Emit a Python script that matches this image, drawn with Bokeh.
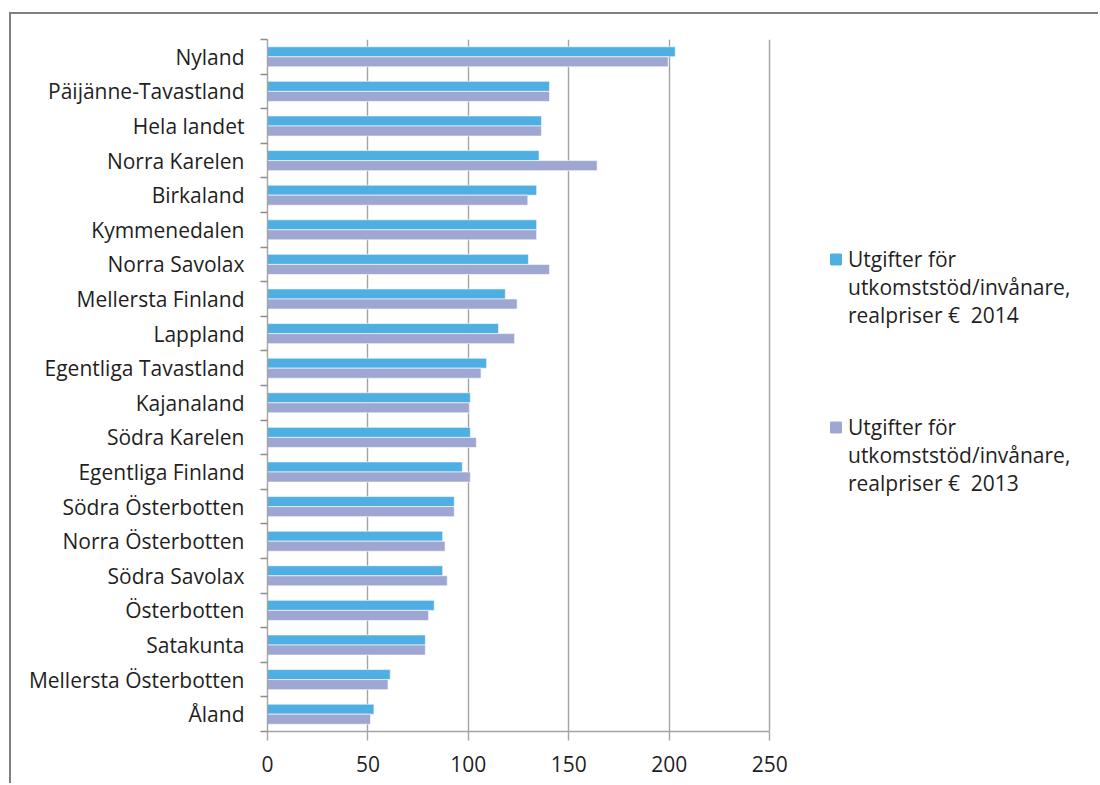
from bokeh.plotting import figure
from bokeh.models import Range1d, FixedTicker, Legend, LegendItem
from bokeh.embed import file_html
from bokeh.resources import INLINE

# ---------------- data ----------------
regions = ["Nyland", "Päijänne-Tavastland", "Hela landet", "Norra Karelen", "Birkaland",
           "Kymmenedalen", "Norra Savolax", "Mellersta Finland", "Lappland",
           "Egentliga Tavastland", "Kajanaland", "Södra Karelen", "Egentliga Finland",
           "Södra Österbotten", "Norra Österbotten", "Södra Savolax", "Österbotten",
           "Satakunta", "Mellersta Österbotten", "Åland"]
v2014 = [203.0, 140.4, 136.4, 135.2, 134.0, 134.0, 129.9, 118.4, 115.0, 109.1,
         101.0, 101.0, 97.0, 93.0, 87.2, 87.2, 83.0, 78.6, 61.1, 53.0]
v2013 = [199.5, 140.4, 136.4, 164.1, 129.6, 134.0, 140.4, 124.3, 123.0, 106.3,
         100.5, 104.0, 101.0, 93.0, 88.4, 89.5, 80.2, 78.6, 60.0, 51.3]
x_ticks = [0, 50, 100, 150, 200, 250]
legend_2014 = ["Utgifter för", "utkomststöd/invånare,", "realpriser €  2014"]
legend_2013 = ["Utgifter för", "utkomststöd/invånare,", "realpriser €  2013"]

# ---------------- style ----------------
C2014 = "#4fafe3"
C2013 = "#9da7d2"
FONT = "Open Sans"
FS = "21px"
TXT = "#1f1f1f"
GRID = "#a3a3a3"

n = len(regions)
centers = [n - 1 - i + 0.5 for i in range(n)]
boundaries = list(range(n + 1))
bar_h = 0.29
y2014 = [c + bar_h / 2 for c in centers]
y2013 = [c - bar_h / 2 for c in centers]

# the frame extends to the right edge so that the legend can sit inside it;
# the axis line and the ticks stop at 250
X_END = 414.7
p = figure(width=1089, height=771, output_backend="svg", toolbar_location=None,
           x_range=Range1d(0, X_END), y_range=Range1d(0, n),
           min_border_left=256, min_border_right=0, min_border_top=25,
           min_border_bottom=54)
p.margin = (12, 0, 0, 9)
p.styles = {"border-top": "2px solid #808080", "border-left": "2px solid #808080"}
p.outline_line_color = None
p.background_fill_color = "white"
p.border_fill_color = "white"

r14 = p.hbar(y=y2014, right=v2014, left=0, height=bar_h, fill_color=C2014,
             line_color="white", line_alpha=0.6, line_width=1)
r13 = p.hbar(y=y2013, right=v2013, left=0, height=bar_h, fill_color=C2013,
             line_color="white", line_alpha=0.6, line_width=1)

# x axis
p.xaxis.ticker = FixedTicker(ticks=x_ticks)
p.xaxis.bounds = (x_ticks[0], x_ticks[-1])
p.xaxis.axis_line_color = GRID
p.xaxis.axis_line_width = 1.4
p.xaxis.major_tick_line_color = GRID
p.xaxis.major_tick_line_width = 1.4
p.xaxis.major_tick_out = 9
p.xaxis.major_tick_in = 0
p.xaxis.minor_tick_out = 0
p.xaxis.minor_tick_in = 0
p.xaxis.major_label_standoff = 15
p.xaxis.major_label_text_font = FONT
p.xaxis.major_label_text_font_size = FS
p.xaxis.major_label_text_color = TXT

# y axis: labels at category centres, tick marks at category boundaries
p.yaxis.ticker = FixedTicker(ticks=centers, minor_ticks=boundaries)
p.yaxis.major_label_overrides = {c: r for c, r in zip(centers, regions)}
p.yaxis.axis_line_color = GRID
p.yaxis.axis_line_width = 1.4
p.yaxis.major_tick_out = 0
p.yaxis.major_tick_in = 0
p.yaxis.minor_tick_out = 7
p.yaxis.minor_tick_in = 0
p.yaxis.minor_tick_line_color = "#8c8c8c"
p.yaxis.minor_tick_line_width = 1.3
p.yaxis.major_label_standoff = 16
p.yaxis.major_label_text_font = FONT
p.yaxis.major_label_text_font_size = FS
p.yaxis.major_label_text_color = TXT

p.xgrid.ticker = FixedTicker(ticks=x_ticks)
p.xgrid.grid_line_color = GRID
p.xgrid.grid_line_width = 1.4
p.ygrid.visible = False

# legend swatches: zero-size square markers on the bar data (invisible in the plot)
sw14 = p.scatter(x=v2014, y=y2014, size=0, marker="square", fill_color=C2014,
                 line_color=C2014, line_width=2)
sw13 = p.scatter(x=v2013, y=y2013, size=0, marker="square", fill_color=C2013,
                 line_color=C2013, line_width=2)
blank = p.scatter(x=v2013, y=y2013, size=0, marker="square", fill_alpha=0, line_alpha=0)

items = [LegendItem(label=legend_2014[0], renderers=[sw14])]
items += [LegendItem(label=t, renderers=[blank]) for t in legend_2014[1:]]
items += [LegendItem(label=" ", renderers=[blank]) for _ in range(3)]
items += [LegendItem(label=legend_2013[0], renderers=[sw13])]
items += [LegendItem(label=t, renderers=[blank]) for t in legend_2013[1:]]

lg = Legend(items=items, location=(556, 234), orientation="vertical")
lg.glyph_width = 25
lg.glyph_height = 28
lg.label_height = 28
lg.label_standoff = 0
lg.spacing = 0
lg.padding = 0
lg.margin = 0
lg.border_line_color = None
lg.background_fill_alpha = 0
lg.label_text_font = FONT
lg.label_text_font_size = FS
lg.label_text_color = TXT
p.add_layout(lg, "center")

open("out.html", "w").write(file_html(p, INLINE))
